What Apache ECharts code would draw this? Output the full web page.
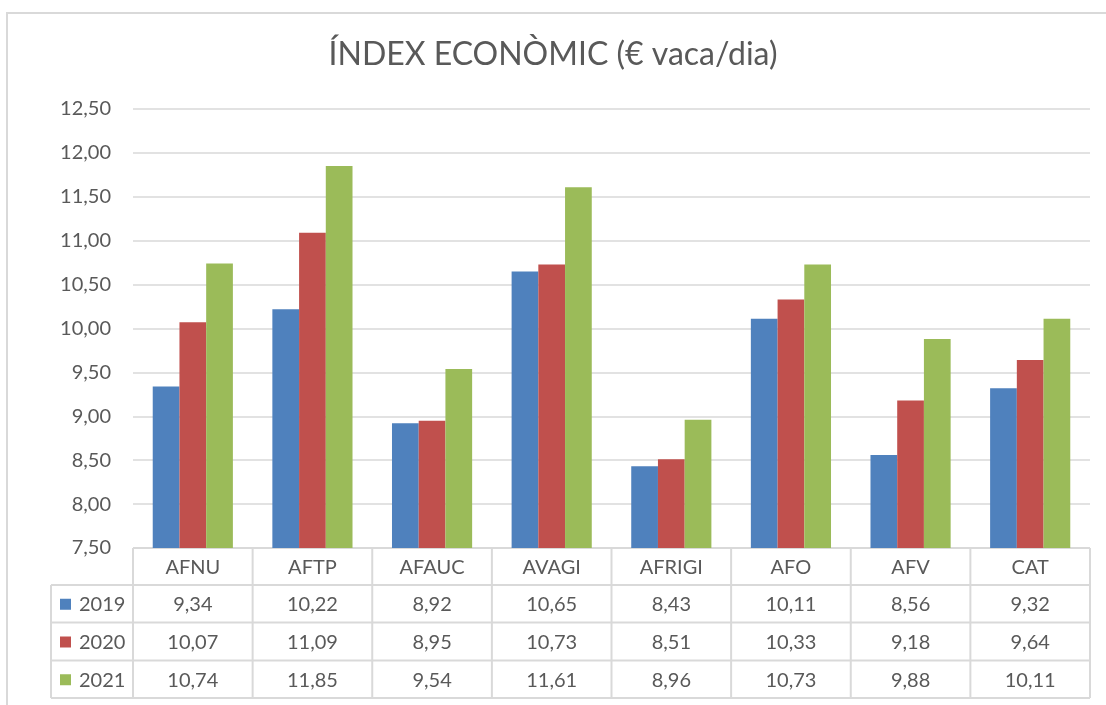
<!DOCTYPE html>
<html>
<head>
<meta charset="utf-8">
<script src="https://cdn.jsdelivr.net/npm/echarts@6/dist/echarts.min.js"></script>
<style>
  * { margin: 0; padding: 0; }
  html, body { width: 1106px; height: 705px; background: #fff; overflow: hidden; }
  #renderDom { width: 1106px; height: 705px; }
</style>
</head>
<body>
<div id="renderDom"></div>
<script>
// data
var categories = ['AFNU', 'AFTP', 'AFAUC', 'AVAGI', 'AFRIGI', 'AFO', 'AFV', 'CAT'];
var years = ['2019', '2020', '2021'];
var v2019 = [9.34, 10.22, 8.92, 10.65, 8.43, 10.11, 8.56, 9.32];
var v2020 = [10.07, 11.09, 8.95, 10.73, 8.51, 10.33, 9.18, 9.64];
var v2021 = [10.74, 11.85, 9.54, 11.61, 8.96, 10.73, 9.88, 10.11];
var colors = ['#4F81BD', '#C0504D', '#9BBB59'];

var values = [v2019, v2020, v2021];
var txt = '#595959', line = '#d9d9d9';
var fontFam = 'Lato, "Open Sans", sans-serif';
var fmt = function (v) { return v.toFixed(2).replace('.', ','); };

var myChart = echarts.init(document.getElementById('renderDom'), null, { renderer: 'canvas' });

var option = {
  animation: false,
  backgroundColor: '#fff',
  textStyle: { fontFamily: fontFam },
  title: {
    text: 'ÍNDEX ECONÒMIC (€ vaca/dia)',
    left: 'center',
    top: 34,
    textStyle: { fontFamily: fontFam, fontSize: 32, fontWeight: 'normal', color: txt }
  },
  grid: { left: 133, right: 16, top: 109, bottom: 157 },
  xAxis: {
    type: 'category',
    data: categories,
    axisLine: { show: false },
    axisTick: { show: false },
    axisLabel: { show: false },
    splitLine: { show: false }
  },
  yAxis: {
    type: 'value',
    min: 7.5,
    max: 12.5,
    interval: 0.5,
    axisLine: { show: false },
    axisTick: { show: false },
    axisLabel: { color: txt, fontSize: 20, margin: 22, fontFamily: fontFam, formatter: fmt },
    splitLine: { lineStyle: { color: line, width: 1.5 } }
  },
  series: years.map(function (y, i) {
    return {
      name: y,
      type: 'bar',
      data: values[i],
      barGap: '0%',
      barCategoryGap: '33%',
      itemStyle: { color: colors[i] }
    };
  })
};
myChart.setOption(option);

// data table under the plot
function buildTable() {
  var top = 548, rowH = [37, 37.5, 38, 37.5];
  var left = 133, right = 1090, legL = 51;
  var rows = [top];
  rowH.forEach(function (h, i) { rows.push(rows[i] + h); });
  var colW = (right - left) / categories.length;
  var els = [];
  var ls = { stroke: line, lineWidth: 2 };
  // horizontal lines
  els.push({ type: 'line', shape: { x1: left, y1: rows[0], x2: right, y2: rows[0] }, style: ls });
  for (var r = 1; r < rows.length; r++) {
    els.push({ type: 'line', shape: { x1: legL, y1: rows[r], x2: right, y2: rows[r] }, style: ls });
  }
  // vertical lines
  els.push({ type: 'line', shape: { x1: legL, y1: rows[1], x2: legL, y2: rows[4] }, style: ls });
  for (var c = 0; c <= categories.length; c++) {
    var x = left + c * colW;
    els.push({ type: 'line', shape: { x1: x, y1: rows[0], x2: x, y2: rows[4] }, style: ls });
  }
  var ts = function (t, x, y, align) {
    return { type: 'text', x: x, y: y, style: { text: t, fill: txt, font: '20px ' + fontFam, align: align || 'center', verticalAlign: 'middle' } };
  };
  categories.forEach(function (cat, ci) {
    var cx = myChart.convertToPixel({ xAxisIndex: 0 }, cat);
    els.push(ts(cat, cx, (rows[0] + rows[1]) / 2 + 1));
    values.forEach(function (arr, si) {
      els.push(ts(fmt(arr[ci]), cx, (rows[si + 1] + rows[si + 2]) / 2 + 1));
    });
  });
  years.forEach(function (y, si) {
    var cy = (rows[si + 1] + rows[si + 2]) / 2;
    els.push({ type: 'rect', shape: { x: 60, y: cy - 5, width: 11, height: 11 }, style: { fill: colors[si] } });
    els.push(ts(y, 79, cy + 1, 'left'));
  });
  // chart frame
  els.push({ type: 'polyline', shape: { points: [[7, 720], [7, 13], [1120, 13]] }, style: { stroke: line, lineWidth: 2, fill: null } });
  myChart.setOption({ graphic: { elements: els } });
}
buildTable();
</script>
</body>
</html>
